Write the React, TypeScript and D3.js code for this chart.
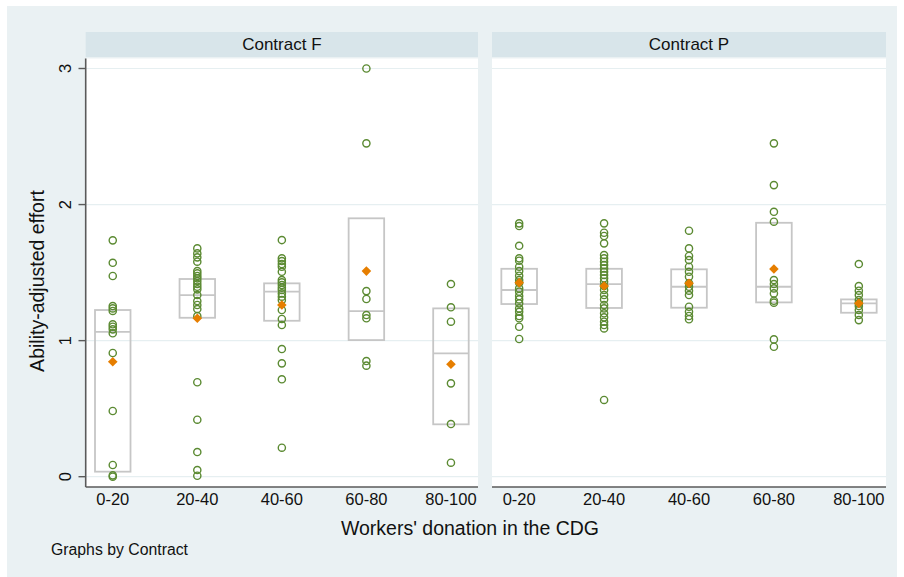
import * as d3 from 'd3';

// categories and panels
const categories = ['0-20', '20-40', '40-60', '60-80', '80-100'];
const contracts = ['Contract F', 'Contract P'];
const yTicks = [0, 1, 2, 3];

// ability-adjusted effort per donation group
const effortF = [
  [1.737, 1.572, 1.475, 1.254, 1.237, 1.218, 1.12, 1.102, 1.083, 1.054, 0.909, 0.483, 0.086, 0.01, 0.0],
  [1.678, 1.641, 1.612, 1.58, 1.511, 1.494, 1.475, 1.458, 1.438, 1.416, 1.396, 1.377, 1.335, 1.291, 1.262, 1.232, 1.18, 0.694, 0.419, 0.181, 0.049, 0.007],
  [1.739, 1.605, 1.585, 1.563, 1.543, 1.506, 1.445, 1.428, 1.409, 1.389, 1.372, 1.347, 1.323, 1.298, 1.225, 1.159, 1.115, 0.938, 0.833, 0.716, 0.213],
  [3.0, 2.45, 1.364, 1.306, 1.188, 1.164, 0.85, 0.816],
  [1.416, 1.245, 1.139, 0.686, 0.387, 0.103],
];
const effortP = [
  [1.862, 1.842, 1.697, 1.605, 1.587, 1.543, 1.511, 1.477, 1.445, 1.426, 1.384, 1.36, 1.328, 1.303, 1.274, 1.237, 1.212, 1.181, 1.164, 1.102, 1.012],
  [1.862, 1.793, 1.769, 1.715, 1.629, 1.605, 1.58, 1.555, 1.531, 1.506, 1.482, 1.458, 1.433, 1.401, 1.372, 1.335, 1.303, 1.262, 1.237, 1.201, 1.171, 1.139, 1.115, 1.09, 0.564],
  [1.808, 1.678, 1.622, 1.592, 1.543, 1.506, 1.47, 1.421, 1.396, 1.367, 1.335, 1.249, 1.212, 1.181, 1.157],
  [2.45, 2.143, 1.947, 1.874, 1.445, 1.416, 1.384, 1.347, 1.293, 1.279, 1.009, 0.955],
  [1.563, 1.401, 1.367, 1.335, 1.298, 1.274, 1.254, 1.225, 1.188, 1.151],
];

// box (quartiles, median) and mean markers
const q1F = [0.037, 1.168, 1.146, 1.004, 0.385];
const medF = [1.065, 1.335, 1.36, 1.217, 0.906];
const q3F = [1.225, 1.453, 1.421, 1.899, 1.237];
const meanF = [0.845, 1.164, 1.262, 1.511, 0.826];
const q1P = [1.269, 1.24, 1.242, 1.281, 1.205];
const medP = [1.372, 1.416, 1.396, 1.396, 1.274];
const q3P = [1.528, 1.528, 1.524, 1.866, 1.303];
const meanP = [1.426, 1.401, 1.421, 1.526, 1.274];

const font = '"Liberation Sans", Arial, Helvetica, sans-serif';
const green = '#5b8a32';
const orange = '#e67e00';
const boxGray = '#c6c6c6';
const axisGray = '#5a5a5a';

export default function App() {
  const width = 904;
  const height = 577;
  const top = 58.5;
  const bottom = 487;
  const panelX = [
    [85.7, 478],
    [492, 886],
  ];
  const y = d3.scaleLinear().domain([0, 3]).range([476.7, 68.5]);
  const diamond = d3.symbol().type(d3.symbolSquare).size(46)();

  const panels = [
    { title: contracts[0], pts: effortF, q1: q1F, med: medF, q3: q3F, mean: meanF },
    { title: contracts[1], pts: effortP, q1: q1P, med: medP, q3: q3P, mean: meanP },
  ];

  return (
    <svg
      width={width}
      height={height}
      style={{ position: 'absolute', left: 0, top: 0 }}
      fontFamily={font}
    >
      <rect x={0} y={0} width={width} height={height} fill="#fff" />
      <rect x={7} y={6} width={890} height={571} fill="#eaf1f3" />

      {panels.map((p, i) => {
        const [x0, x1] = panelX[i];
        const x = d3.scalePoint().domain(categories).range([x0, x1]).padding(0.32);
        const bw = x.step() * 0.42;
        return (
          <g key={p.title}>
            <rect x={x0} y={32} width={x1 - x0} height={25} fill="#d8e5ea" />
            <text
              x={(x0 + x1) / 2}
              y={44.5}
              textAnchor="middle"
              dominantBaseline="central"
              fontSize={17}
              fill="#111"
            >
              {p.title}
            </text>
            <rect x={x0} y={top} width={x1 - x0} height={bottom - top} fill="#fff" />
            {yTicks.map((t) => (
              <line
                key={t}
                x1={x0}
                x2={x1}
                y1={y(t)}
                y2={y(t)}
                stroke="#e6eff1"
                strokeWidth={1.2}
              />
            ))}
            {categories.map((c, j) => (
              <g key={c}>
                <rect
                  x={x(c)! - bw / 2}
                  y={y(p.q3[j])}
                  width={bw}
                  height={y(p.q1[j]) - y(p.q3[j])}
                  fill="none"
                  stroke={boxGray}
                  strokeWidth={1.8}
                />
                <line
                  x1={x(c)! - bw / 2}
                  x2={x(c)! + bw / 2}
                  y1={y(p.med[j])}
                  y2={y(p.med[j])}
                  stroke={boxGray}
                  strokeWidth={1.8}
                />
                {p.pts[j].map((v, k) => (
                  <circle
                    key={k}
                    cx={x(c)}
                    cy={y(v)}
                    r={3.6}
                    fill="none"
                    stroke={green}
                    strokeWidth={1.4}
                  />
                ))}
                <path
                  d={diamond}
                  transform={`translate(${x(c)},${y(p.mean[j])}) rotate(45)`}
                  fill={orange}
                />
                <text
                  x={x(c)}
                  y={499}
                  textAnchor="middle"
                  dominantBaseline="central"
                  fontSize={16.5}
                  fill="#111"
                >
                  {c}
                </text>
              </g>
            ))}
            <line x1={x0} x2={x1} y1={bottom} y2={bottom} stroke={axisGray} strokeWidth={1.6} />
          </g>
        );
      })}

      {/* y axis on the left panel */}
      <line x1={85.7} x2={85.7} y1={top} y2={bottom} stroke={axisGray} strokeWidth={1.6} />
      {yTicks.map((t) => (
        <g key={t}>
          <line x1={78.5} x2={85.7} y1={y(t)} y2={y(t)} stroke={axisGray} strokeWidth={1.4} />
          <text
            transform={`translate(65,${y(t)}) rotate(-90)`}
            textAnchor="middle"
            dominantBaseline="central"
            fontSize={16.5}
            fill="#111"
          >
            {t}
          </text>
        </g>
      ))}

      <text
        transform={`translate(37,281) rotate(-90)`}
        textAnchor="middle"
        dominantBaseline="central"
        fontSize={19.5}
        fill="#111"
      >
        Ability-adjusted effort
      </text>
      <text x={470} y={528} textAnchor="middle" dominantBaseline="central" fontSize={19.5} fill="#111">
        Workers' donation in the CDG
      </text>
      <text x={51} y={549} dominantBaseline="central" fontSize={15.8} fill="#111">
        Graphs by Contract
      </text>
    </svg>
  );
}
